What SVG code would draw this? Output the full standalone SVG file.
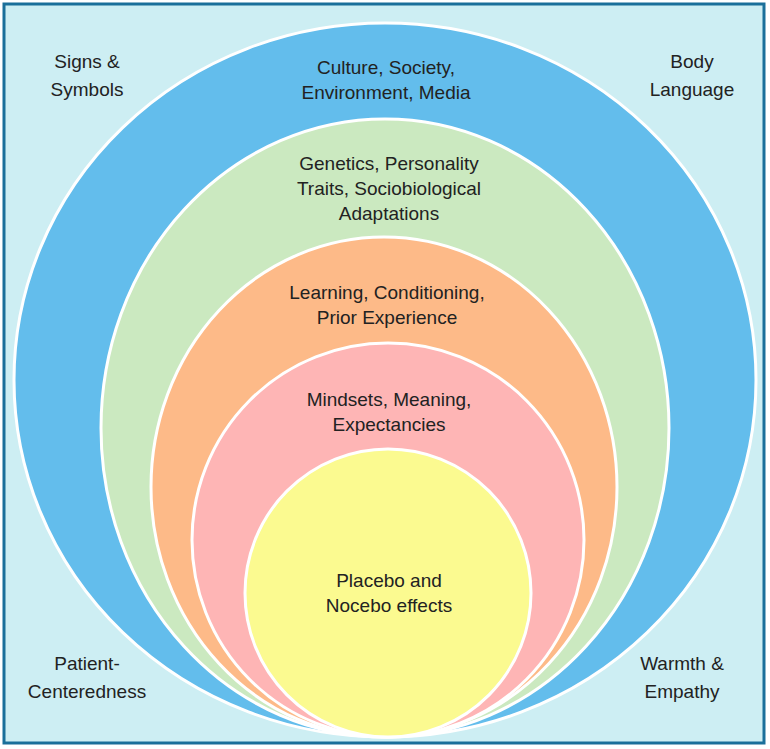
<svg xmlns="http://www.w3.org/2000/svg" width="770" height="749" viewBox="0 0 770 749">
<style>
.r{stroke:#fff;stroke-width:3}
text{font-family:"Liberation Sans",Arial,sans-serif;font-size:19px;fill:#222;text-anchor:middle}
</style>
<rect x="4" y="4" width="760" height="739" fill="#cdeef3" stroke="#1a6f9a" stroke-width="3"/>
<g id="blue"><ellipse class="r" cx="385" cy="380" rx="371" ry="357" fill="#63bdec"/></g>
<g id="green"><ellipse class="r" cx="385" cy="428" rx="284" ry="309" fill="#cbe9c0"/></g>
<g id="orange"><ellipse class="r" cx="384" cy="487" rx="233" ry="250" fill="#fdba88"/></g>
<g id="pink"><ellipse class="r" cx="388" cy="540" rx="196" ry="197" fill="#feb5b5"/></g>
<g id="yellow"><ellipse class="r" cx="388" cy="593" rx="143" ry="144" fill="#fbfa90"/></g>
<g id="labels">
<text x="386" y="74">Culture, Society,</text><text x="386" y="99">Environment, Media</text>
<text x="389" y="170">Genetics, Personality</text><text x="389" y="195">Traits, Sociobiological</text><text x="389" y="220">Adaptations</text>
<text x="387" y="299">Learning, Conditioning,</text><text x="387" y="324">Prior Experience</text>
<text x="389" y="406">Mindsets, Meaning,</text><text x="389" y="431">Expectancies</text>
<text x="389" y="587">Placebo and</text><text x="389" y="612">Nocebo effects</text>
<text x="87" y="68">Signs &amp;</text><text x="87" y="96">Symbols</text>
<text x="692" y="68">Body</text><text x="692" y="96">Language</text>
<text x="87" y="670">Patient-</text><text x="87" y="698">Centeredness</text>
<text x="682" y="670">Warmth &amp;</text><text x="682" y="698">Empathy</text>
</g>
</svg>
